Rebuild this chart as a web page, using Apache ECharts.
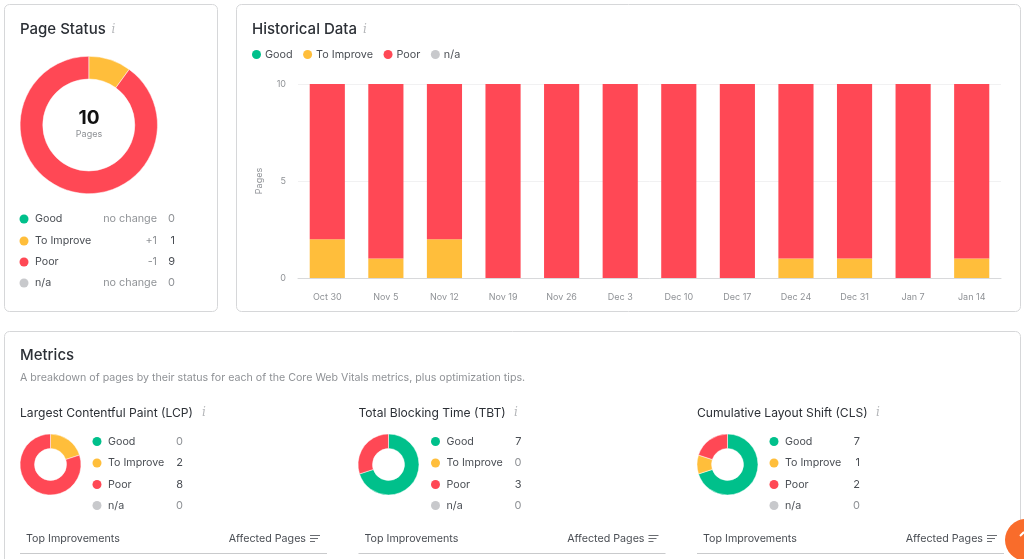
<!DOCTYPE html>
<html><head><meta charset="utf-8">
<style>html,body{margin:0;padding:0;background:#fff;overflow:hidden}#c{width:1024px;height:559px}</style>
<script src="https://cdn.jsdelivr.net/npm/echarts@6/dist/echarts.min.js"></script>
</head><body><div id="c"></div>
<script>
const statusNames = ['Good', 'To Improve', 'Poor', 'n/a'];
const statusColors = ['#00c08b', '#ffbe3b', '#ff4855', '#c8c9cc'];
const categories = ['Oct 30','Nov 5','Nov 12','Nov 19','Nov 26','Dec 3','Dec 10','Dec 17','Dec 24','Dec 31','Jan 7','Jan 14'];
const histGood = [0,0,0,0,0,0,0,0,0,0,0,0];
const histImprove = [2,1,2,0,0,0,0,0,1,1,0,1];
const histPoor = [8,9,8,10,10,10,10,10,9,9,10,9];
const histNa = [0,0,0,0,0,0,0,0,0,0,0,0];
const yTicks = [0,5,10];
const pageStatus = [0,1,9,0];
const pageChange = ['no change','+1','-1','no change'];
const lcp = [0,2,8,0];
const tbt = [7,0,3,0];
const cls = [7,1,2,0];
const metricTitles = ['Largest Contentful Paint (LCP)','Total Blocking Time (TBT)','Cumulative Layout Shift (CLS)'];
const FONT = 'Inter, "Noto Sans", sans-serif';
const INK = '#2c3036', SUB = '#8f9296', BODY = '#4a4e54';

const g = [];
const panel = (x,y,w,h)=>g.push({type:'rect',silent:true,z:-1,shape:{x:x+.5,y:y+.5,width:w,height:h,r:5},style:{fill:'#fff',stroke:'#d6d7d9',lineWidth:1}});
const text = (x,y,t,size,fill,o={})=>g.push({type:'text',silent:true,x,y,style:Object.assign({text:t,font:`${o.weight||400} ${size}px ${FONT}`,fill,align:o.align||'left',verticalAlign:'middle'},o.style||{})});
const dot = (x,y,c)=>g.push({type:'circle',silent:true,shape:{cx:x,cy:y,r:4.5},style:{fill:c}});
const info = (x,y)=>g.push({type:'text',silent:true,x,y,style:{text:'i',font:'italic 12px "DejaVu Serif", serif',fill:'#b5b7ba',align:'center',verticalAlign:'middle'}});

panel(4,4,213,307); panel(236,4,784,307); panel(4,331,1016,260);
text(20,29.5,'Page Status',15,INK,{weight:500}); info(113.5,30);
text(252,29.5,'Historical Data',15,INK,{weight:500}); info(365,30);
text(89,118,String(pageStatus.reduce((a,b)=>a+b,0)),19,'#111',{align:'center',weight:700});
text(89,134,'Pages',9,SUB,{align:'center'});
const rowsY=[218.5,240.5,261.5,282.5];
statusNames.forEach((n,i)=>{
  dot(24,rowsY[i]+.5,statusColors[i]);
  text(35,rowsY[i]+.3,n,10.7,BODY);
  text(157,rowsY[i]+.3,pageChange[i],10.8,SUB,{align:'right'});
  text(175,rowsY[i]+.3,String(pageStatus[i]),11,pageStatus[i]?BODY:SUB,{align:'right'});
});
text(20,355.5,'Metrics',15,INK,{weight:500});
text(20,377.5,'A breakdown of pages by their status for each of the Core Web Vitals metrics, plus optimization tips.',10.67,SUB);
const colX=[20,358.5,697], infoX=[204,516,878], rowsM=[441,462.5,484,505];
[lcp,tbt,cls].forEach((vals,c)=>{
  const x=colX[c];
  text(x,413,metricTitles[c],12.1,INK,{weight:400}); info(infoX[c],413);
  statusNames.forEach((n,i)=>{
    dot(x+77,rowsM[i]+.5,statusColors[i]);
    text(x+88,rowsM[i]+.5,n,10.7,BODY);
    text(x+163,rowsM[i]+.5,String(vals[i]),11,vals[i]?BODY:SUB,{align:'right'});
  });
  text(x+6,538.5,'Top Improvements',10.7,BODY);
  text(x+286,538.5,'Affected Pages',10.7,BODY,{align:'right'});
  [[0,9],[1,7],[2,4]].forEach(([k,w],j)=>g.push({type:'rect',silent:true,shape:{x:x+290,y:535+j*3,width:w+1,height:1},style:{fill:'#6a6d72'}}));
  g.push({type:'rect',silent:true,shape:{x:x,y:553,width:307,height:1},style:{fill:'#c9cacc'}});
});
g.push({type:'circle',silent:true,z:50,shape:{cx:1026,cy:540,r:21},style:{fill:'#f96c2b'}});
g.push({type:'polyline',silent:true,z:51,shape:{points:[[1020,536],[1024,532]]},style:{stroke:'#fff',lineWidth:2,fill:null}});

const donut=(vals,cx,cy,r0,r1)=>({type:'pie',silent:true,center:[cx,cy],radius:[r0,r1],startAngle:90,clockwise:true,label:{show:false},labelLine:{show:false},
  itemStyle:{borderColor:'#fff',borderWidth:0.5},
  data:statusNames.map((n,i)=>({name:n,value:vals[i],itemStyle:{color:statusColors[i]}})).filter(d=>d.value>0),animation:false,legendHoverLink:false,tooltip:{show:false}});
const bar=(n,i,d)=>({type:'bar',name:n,stack:'t',data:d,barWidth:'60%',itemStyle:{color:statusColors[i]},silent:true,animation:false});

const chart=echarts.init(document.getElementById('c'),null,{renderer:'canvas'});
chart.setOption({
  animation:false,
  textStyle:{fontFamily:FONT},
  legend:{left:247,top:44,icon:'circle',itemWidth:9,itemHeight:9,itemGap:10.5,selectedMode:false,
    data:statusNames,textStyle:{fontSize:10.8,color:BODY,fontFamily:FONT,padding:[0,0,0,-1]}},
  grid:{left:298,top:84,right:23,height:194,containLabel:false},
  xAxis:{type:'category',data:categories,axisTick:{show:false},axisLine:{lineStyle:{color:'#d8d9db',width:1}},
    axisLabel:{color:SUB,fontSize:9,margin:15,fontFamily:FONT,interval:0}},
  yAxis:{type:'value',min:yTicks[0],max:yTicks[2],interval:yTicks[1],name:'Pages',nameLocation:'middle',nameGap:34,nameRotate:90,
    nameTextStyle:{color:SUB,fontSize:9,fontFamily:FONT},
    axisLine:{show:false},axisTick:{show:false},axisLabel:{color:SUB,fontSize:9,margin:12,fontFamily:FONT},
    splitLine:{lineStyle:{color:'#f1f1f2',width:1}}},
  series:[bar(statusNames[0],0,histGood),bar(statusNames[1],1,histImprove),bar(statusNames[2],2,histPoor),bar(statusNames[3],3,histNa),
    donut(pageStatus,88.8,125,46,68.7),donut(lcp,50.5,464.5,16,30.5),donut(tbt,388.5,464.5,16,30.5),donut(cls,727.5,464.5,16,30.5)],
  graphic:{elements:g}
});
</script></body></html>
